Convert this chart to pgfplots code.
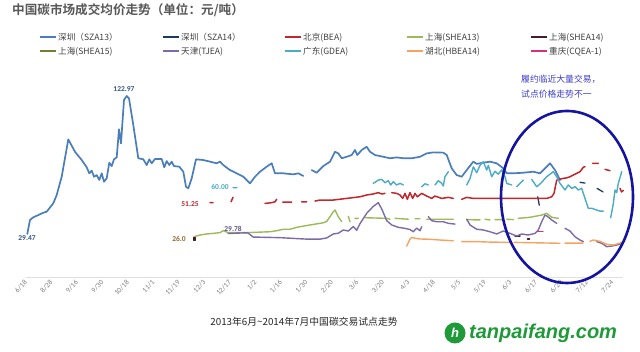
\documentclass[border=0pt]{standalone}
\usepackage{fontspec}
\usepackage{pgfplots}
\pgfplotsset{compat=1.18}
\setmainfont{Noto Sans CJK SC}[BoldFont={Noto Sans CJK SC Bold}]
\newfontfamily\calfont{Carlito}
\newfontfamily\logofont{Liberation Sans}
\definecolor{sza13}{HTML}{4A7EBB}
\definecolor{sza14}{HTML}{1F3A60}
\definecolor{bea}{HTML}{C0282D}
\definecolor{shea13}{HTML}{9BBB59}
\definecolor{shea14}{HTML}{4B1B2B}
\definecolor{shea15}{HTML}{7A7A32}
\definecolor{tjea}{HTML}{7D6BA8}
\definecolor{gdea}{HTML}{4BACC6}
\definecolor{hbea}{HTML}{F4A460}
\definecolor{cqea}{HTML}{D6307A}
\definecolor{ellc}{HTML}{1414A0}
\definecolor{annc}{HTML}{3D3DCC}
\definecolor{titlec}{HTML}{595959}
\definecolor{legc}{HTML}{404040}
\definecolor{tickc}{HTML}{808080}
\definecolor{axc}{HTML}{E0E0E0}
\definecolor{logoc}{HTML}{1E9A38}

\pgfplotstableread{
x y
27.3 29.5
30 39
33.3 40.8
38.3 42.3
43.3 43.9
46.7 44.6
53.3 50.3
56.7 55.9
61.7 68.3
68.3 93.6
75 85.2
81.7 79.6
86.7 74.7
89.3 70.6
91.7 72.4
94 68.3
96.7 69.4
99.3 66.1
101.7 70.6
104 64.9
106.7 67.2
109.3 77.8
111.7 75.5
114 80.1
116.7 81.4
119 100.4
121 90.9
124 120.3
126.7 123
129 121.4
133.3 103.3
138.3 80.8
143.3 80.1
146.7 76.2
149.3 80.1
151.7 77.4
155 80.3
161.7 80.3
164.3 74.7
166.7 78.9
169.3 76.2
171.7 78.5
174 75.5
179.3 75.1
183.3 71.7
186 61.5
188.3 60.4
191.7 67.2
196 80.1
203.3 79.6
210 78.5
216.7 77.4
220 78.5
223.3 76.2
230 72.8
236.7 70.6
243.3 68.3
250 63.8
255 68.3
260 71.7
266.7 75.1
271.7 77.4
275 70.6
283.3 70.6
293.3 69.9
298.3 70.6
301.7 69.4
303.3 68.8
nan nan
311.7 72.8
316.7 71
323.3 75.5
330 78.5
335 85.2
338.3 84.1
341.7 80.8
346.7 81.8
351.7 83
355 86.4
357.3 83
361.7 86.4
366.7 88.6
370 85.2
375 83
383.3 81.8
390 80.8
396.7 81.4
403.3 80.8
411.7 80.8
420 81.8
426.7 84.1
433.3 84.8
443.3 84.6
446.7 83
451.7 74
456.7 69.4
461.7 68.3
466.7 72.8
473.3 78.5
476.7 77
483.3 77.8
490 78.5
496.7 77.4
503.3 74
506.7 70.6
513.3 70.6
523.3 71
533.3 71.7
540 70.6
546.7 75.1
550 77.4
555 72.8
560 66
}\tsza

\pgfplotstableread{
x y
537.7 54.7
539.3 49
nan nan
580 64.5
585 64
nan nan
597 60.4
603 58
}\tszaf

\pgfplotstableread{
x y
210 50.7
213 50.7
nan nan
231 51.3
233 54.3
nan nan
265 50.2
271.7 50.7
275 51.3
276.7 53
nan nan
282.7 51.1
291.7 51.1
nan nan
301.7 51.3
306.7 51.3
nan nan
315 51.8
320 52.5
333.3 52.5
346.7 53.6
360 54.7
366.7 55.9
373.3 56.6
378.3 57.5
381.7 56.6
385 57
nan nan
391.7 57.5
396.7 57
400 55.9
402.7 53.6
405 57
407.3 53
410 57.5
412.7 53.6
415 57
417.3 54.7
421.7 57
426.7 55.2
431.7 53.6
435 55.2
441.7 53.6
448.3 54.3
453.3 53.6
nan nan
461.7 53
466.7 54.3
473.3 53.6
490 53.6
510 53.6
530 53.6
546.7 53.6
551.7 54.7
554 57
556.7 66
563.3 67.2
566.7 67.5
570 68.3
576.7 70.6
580 71.7
583.3 74.7
585 75.1
nan nan
592.7 77.4
598.3 77.4
nan nan
605 73.3
610 72.4
nan nan
620 60.4
621.5 58
623.3 59
}\tbea

\pgfplotstableread{
x y
194 27.6
200 28.8
206.7 29.5
213.3 29.9
220 30.4
223.3 31.7
228.3 30.4
246.7 30.4
270 31
276.7 31.7
283.3 32.7
290 32.7
296.7 34
310 35.6
323.3 37.1
326.7 38
330 41.2
333.3 44.6
335 45.7
338.3 41.2
341.7 37.8
nan nan
348.3 41.5
350 37.8
nan nan
355 40.1
358.3 40.1
nan nan
365 40.5
386.7 40.1
390 39.5
nan nan
395 40.1
408.3 39.5
nan nan
415 39.8
420 39.8
nan nan
426.7 39.5
453.3 39.5
nan nan
466.7 39.2
480 39
nan nan
485 39.5
490 39
nan nan
495 39.2
502 39.2
nan nan
506.7 39.5
513.3 39.2
nan nan
518.3 40.1
530 40.8
541.7 42.3
546.7 43.5
551.7 40.8
558.3 40.1
}\tshea

\pgfplotstableread{
x y
228 29.8
246.7 30.3
248.3 30
253.3 27.4
280 27
306.7 26
320 26
326.7 26.8
333.3 29.5
338.3 30
343.3 32.2
348.3 31.5
353.3 34.5
356.7 32
360 36.5
366.7 43.5
373.3 48.2
378.3 50.7
381.7 46.5
386.7 38.5
391.7 35.6
398.3 34
405 33.3
410 32.5
413.3 31
416.7 33.5
420 31.7
421.7 34.4
nan nan
428.3 41.2
431.7 38.5
436.7 37.8
443.3 37.8
448.3 36.7
455 36.2
nan nan
466.7 39.5
470 35.6
476.7 32.7
483.3 32.2
490 31
496.7 29.5
503.3 31.5
510 29.9
516.7 28.1
521.7 29.5
528.3 28.8
535 29.9
538.3 32.2
541.7 37.8
545 42.3
547.3 41.5
551.7 39
556.7 36.7
nan nan
565 33.3
570 31.5
575 27.6
580 25.4
583.3 24.3
nan nan
596.7 24.3
601.7 23.2
606.7 20.9
611.7 21.3
616.7 22
623.3 23.2
}\ttjea

\pgfplotstableread{
x y
233 60.8
237 60.8
nan nan
373.3 63.8
378.3 66
381.7 66.5
385 64.2
388.3 65.6
390.7 62.7
393.3 64.9
396.7 62.7
400 63.8
403.3 62.7
nan nan
421.7 61.5
425 63.5
428.3 62.7
nan nan
435 62.7
438.3 65.6
441.7 63.8
443.3 62
445 68.3
448.3 71.7
nan nan
466.7 62.7
470 67
473.3 75
476.7 71
480 76
483.3 78.5
486.7 72.8
488.3 76
491.7 68.3
495 72
498.3 70
501.7 73
505 68.3
506.7 63.8
511.7 62.7
nan nan
516.7 61.5
523.3 66
nan nan
531.7 66.5
536.7 61.5
540.7 63.8
546.7 68.3
553.3 71.7
556.7 68.3
560 63.8
565 59.3
568.3 62.7
571.7 60.4
575 61.5
578.3 59.3
581.7 60.4
585 53.6
588.3 46.9
591.7 46.9
596.7 45.7
600 45
603.3 45
nan nan
610.7 40.5
613.3 50
615 59.3
616.7 57.5
618.3 63.8
621.7 71.7
}\tgdea

\pgfplotstableread{
x y
406.7 21.3
410 26
411.7 27.2
415 26.6
420 26.1
430 25.9
440 25.4
453.3 24.9
nan nan
461.7 24.3
476.7 24.3
490 24
510 23.8
nan nan
514 23.8
560 23.2
nan nan
565 23.3
583 23.3
nan nan
590 24.5
593.3 25.4
600 24.5
606.7 22.5
613.3 22
620 23.3
623.3 24.3
}\thbea

\pgfplotstableread{
x y
515 28.1
520 28.1
nan nan
527.5 26
529.5 26
}\tsheaf

\pgfplotstableread{
x y
538 31
543 31
}\tcqea

\begin{document}
\begin{tikzpicture}[x=1pt,y=1pt]
\useasboundingbox (0,0) rectangle (640,352);
\fill[white] (0,0) rectangle (640,352);
\node[anchor=west, inner sep=0, text=titlec, font=\fontsize{12.6}{14}\selectfont\bfseries] at (12,342) {中国碳市场成交均价走势（单位：元/吨）};

% legend swatches
\fill[sza13] (40,313.5) rectangle (56,315.5);
\fill[sza14] (163,313.5) rectangle (179,315.5);
\fill[bea] (285,313.5) rectangle (301,315.5);
\fill[shea13] (407,313.5) rectangle (423,315.5);
\fill[shea14] (531,313.5) rectangle (547,315.5);
\fill[shea15] (40,299.5) rectangle (56,301.5);
\fill[tjea] (163,299.5) rectangle (179,301.5);
\fill[gdea] (285,299.5) rectangle (301,301.5);
\fill[hbea] (407,299.5) rectangle (423,301.5);
\fill[cqea] (531,299.5) rectangle (547,301.5);
\begin{scope}[every node/.style={anchor=west, inner sep=0, text=legc, font=\fontsize{8.6}{10}\selectfont}]
\node at (58,314.5) {深圳（SZA13）};
\node at (181,314.5) {深圳（SZA14）};
\node at (303,314.5) {北京(BEA)};
\node at (425,314.5) {上海(SHEA13)};
\node at (549,314.5) {上海(SHEA14)};
\node at (58,300.5) {上海(SHEA15)};
\node at (181,300.5) {天津(TJEA)};
\node at (303,300.5) {广东(GDEA)};
\node at (425,300.5) {湖北(HBEA14)};
\node at (549,300.5) {重庆(CQEA-1)};
\end{scope}

\begin{axis}[at={(26pt,74.5pt)}, anchor=south west, scale only axis,
  width=597pt, height=217.5pt,
  xmin=26, xmax=623, ymin=0, ymax=147.4,
  axis x line*=bottom, axis y line=none,
  x axis line style={draw=axc, line width=0.8pt, -},
  xtick={26,51.5,77,102.5,128,153.5,179,204.5,230,255.5,281,306.5,332,357.5,383,408.5,434,459.5,485,510.5,536,561.5,587,612.5},
  xticklabels={6/18,8/28,9/16,9/30,10/18,11/1,11/19,12/3,12/17,1/2,1/16,1/30,2/20,3/6,3/20,4/3,4/18,5/5,5/19,6/3,6/17,6/29,7/12,7/24},
  major tick length=0pt,
  xticklabel shift=4pt,
  xticklabel style={rotate=45, anchor=east, text=tickc, font=\calfont\fontsize{7.3}{8}\selectfont, inner sep=0pt},
  clip=false, unbounded coords=jump,
  every axis plot/.append style={line join=round, line cap=round},
]
\addplot[sza13, line width=1.7pt] table {\tsza};
\addplot[sza14, line width=1.3pt] table {\tszaf};
\addplot[bea, line width=1.5pt] table {\tbea};
\addplot[shea13, line width=1.4pt] table {\tshea};
\addplot[shea14, line width=1.4pt] table {\tsheaf};
\addplot[shea14, only marks, mark=square*, mark size=1.3pt] coordinates {(194,26.3)};
\addplot[tjea, line width=1.4pt] table {\ttjea};
\addplot[gdea, line width=1.4pt] table {\tgdea};
\addplot[hbea, line width=1.4pt] table {\thbea};
\addplot[cqea, line width=1.4pt] table {\tcqea};

\node[font=\calfont\bfseries\fontsize{7.5}{8}\selectfont, text=sza13!70!black] at (axis cs:27,26.5) {29.47};
\node[font=\calfont\bfseries\fontsize{7.5}{8}\selectfont, text=sza13!70!black] at (axis cs:124,127.7) {122.97};
\node[font=\calfont\bfseries\fontsize{7.5}{8}\selectfont, text=gdea] at (axis cs:220,61.3) {60.00};
\node[font=\calfont\bfseries\fontsize{7.5}{8}\selectfont, text=bea] at (axis cs:190,49.8) {51.25};
\node[font=\calfont\bfseries\fontsize{7.5}{8}\selectfont, text=brown!80!black] at (axis cs:179,26.1) {26.0};
\node[font=\calfont\bfseries\fontsize{7.5}{8}\selectfont, text=tjea!80!black] at (axis cs:233,32.9) {29.78};
\end{axis}

\draw[ellc, line width=2.6pt] (567,155) ellipse [x radius=66, y radius=86];
\node[anchor=west, inner sep=0, text=annc, font=\fontsize{8.8}{10}\selectfont] at (521,273) {履约临近大量交易，};
\node[anchor=west, inner sep=0, text=annc, font=\fontsize{8.8}{10}\selectfont] at (521,258) {试点价格走势不一};

\node[inner sep=0, text=black!85, font=\fontsize{9.8}{11}\selectfont] at (304,30) {2013年6月\textasciitilde 2014年7月中国碳交易试点走势};

\fill[logoc] (455,19) circle (10.5);
\node[inner sep=0, text=white, font=\logofont\bfseries\itshape\fontsize{13}{14}\selectfont] at (455,19) {h};
\node[anchor=west, inner sep=0, text=logoc, font=\logofont\bfseries\itshape\fontsize{20}{22}\selectfont] at (469,19) {tanpaifang.com};
\end{tikzpicture}
\end{document}
